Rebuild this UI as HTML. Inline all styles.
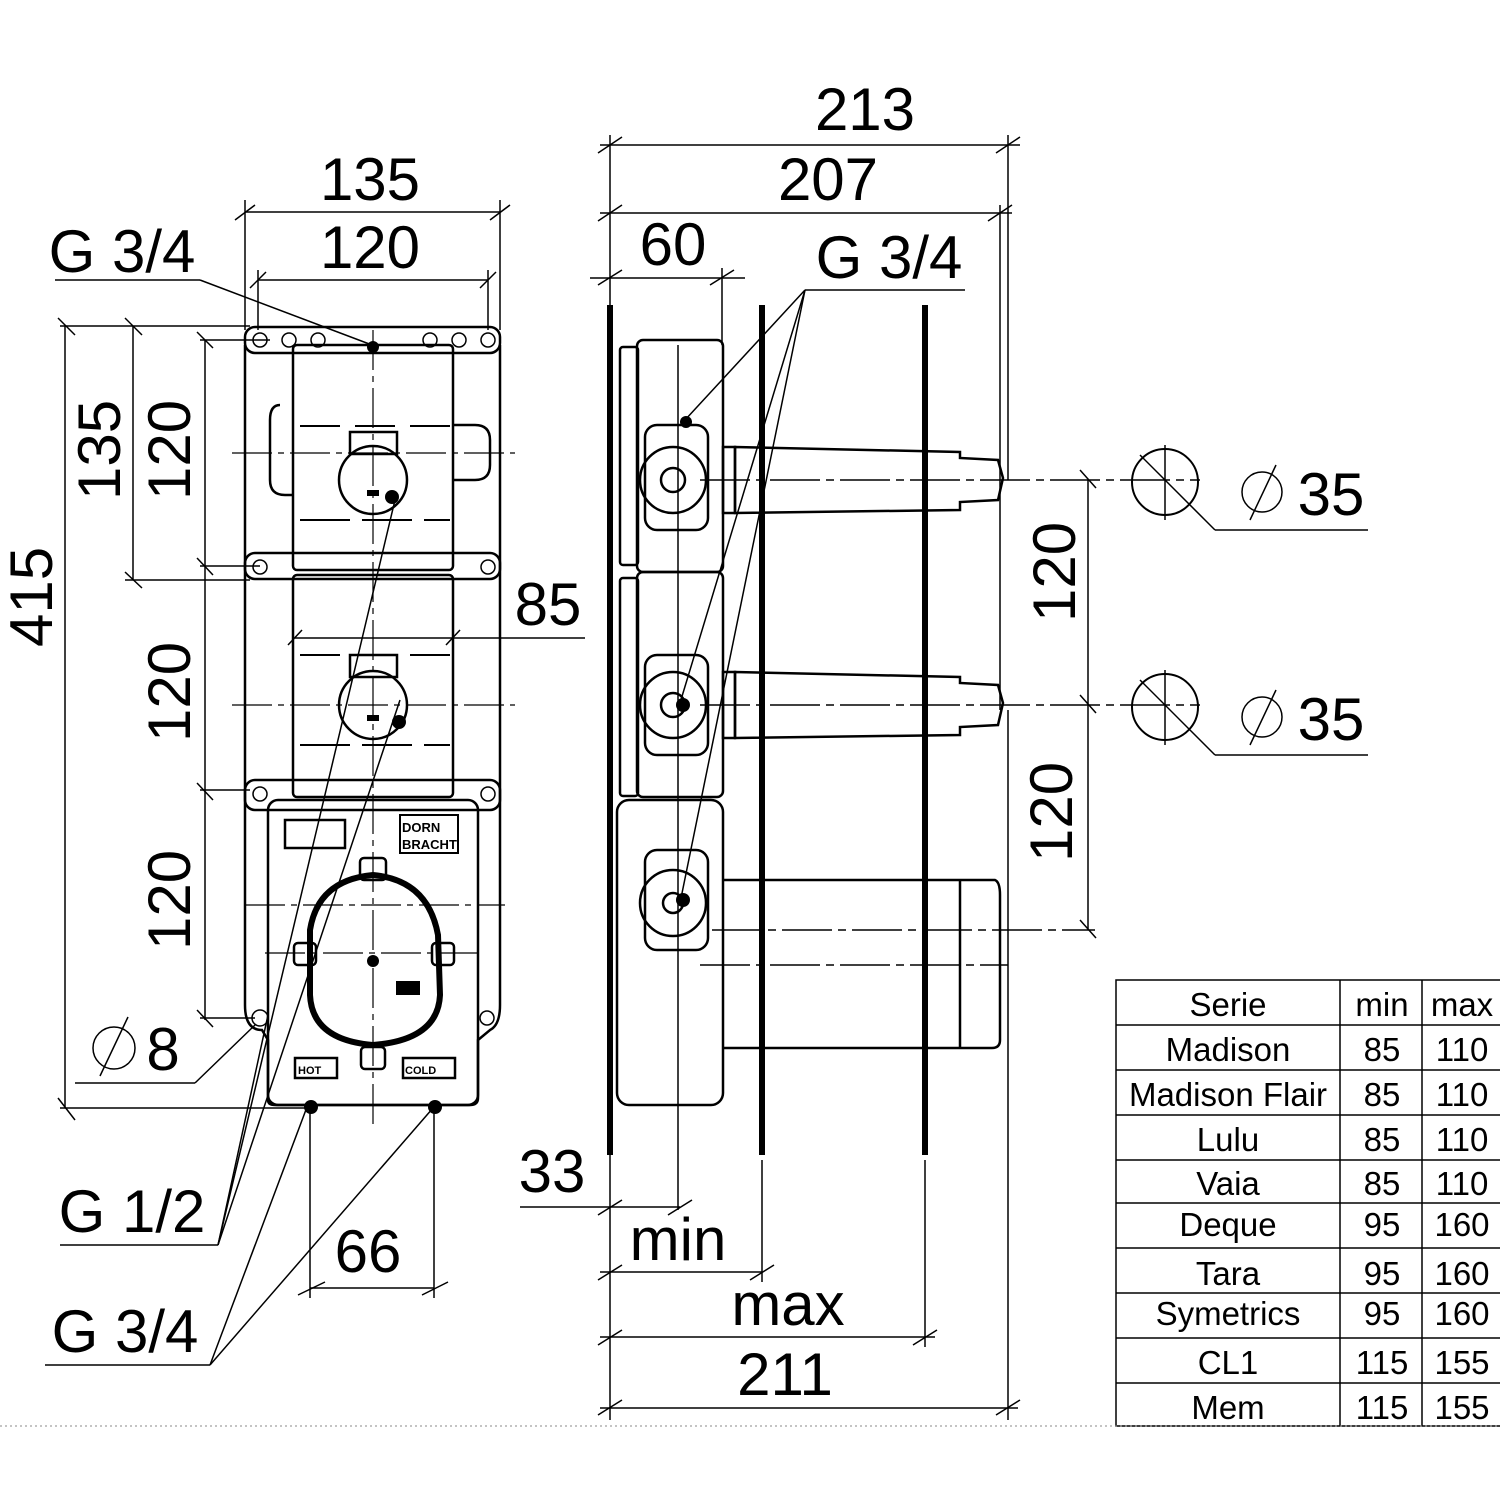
<!DOCTYPE html>
<html><head><meta charset="utf-8"><style>
html,body{margin:0;padding:0;background:#fff}
svg{display:block}
text{font-family:"Liberation Sans",sans-serif;fill:#000}
</style></head><body>
<svg width="1500" height="1500" viewBox="0 0 1500 1500" xmlns="http://www.w3.org/2000/svg">
<g fill="none" stroke="#000" stroke-width="1.5">
<line x1="245" y1="212" x2="500" y2="212"/><line x1="245" y1="200" x2="245" y2="330"/><line x1="500" y1="200" x2="500" y2="330"/>
<line x1="235" y1="220" x2="255" y2="205"/><line x1="490" y1="220" x2="510" y2="205"/>
<line x1="258" y1="280" x2="488" y2="280"/><line x1="258" y1="270" x2="258" y2="330"/><line x1="488" y1="270" x2="488" y2="330"/>
<line x1="250" y1="288" x2="266" y2="272"/><line x1="480" y1="288" x2="496" y2="272"/>
<line x1="55" y1="280" x2="200" y2="280"/><line x1="200" y1="280" x2="372" y2="345"/>
<line x1="65" y1="326" x2="65" y2="1108"/><line x1="60" y1="326" x2="250" y2="326"/><line x1="60" y1="1108" x2="310" y2="1108"/>
<line x1="58" y1="318" x2="75" y2="335"/><line x1="58" y1="1098" x2="75" y2="1120"/>
<line x1="133" y1="326" x2="133" y2="580"/><line x1="125" y1="318" x2="142" y2="335"/><line x1="125" y1="572" x2="142" y2="588"/>
<line x1="125" y1="580" x2="250" y2="580"/>
<line x1="205" y1="340" x2="205" y2="1020"/><line x1="200" y1="340" x2="270" y2="340"/>
<line x1="197" y1="332" x2="213" y2="348"/><line x1="197" y1="558" x2="213" y2="575"/><line x1="197" y1="783" x2="213" y2="800"/><line x1="197" y1="1010" x2="213" y2="1027"/>
<line x1="200" y1="566" x2="260" y2="566"/><line x1="200" y1="790" x2="250" y2="790"/><line x1="200" y1="1018" x2="255" y2="1018"/>
<line x1="295" y1="638" x2="585" y2="638"/><line x1="288" y1="645" x2="302" y2="630"/><line x1="446" y1="645" x2="460" y2="630"/>
<line x1="373" y1="330" x2="373" y2="1125" stroke-dasharray="40,6,6,6" stroke-width="1.2"/>
<line x1="232" y1="453" x2="515" y2="453" stroke-dasharray="40,6,6,6" stroke-width="1.2"/>
<line x1="232" y1="705" x2="515" y2="705" stroke-dasharray="40,6,6,6" stroke-width="1.2"/>
<line x1="245" y1="905" x2="505" y2="905" stroke-dasharray="40,6,6,6" stroke-width="1.2"/>
<line x1="265" y1="953" x2="485" y2="953" stroke-dasharray="40,6,6,6" stroke-width="1.2"/>
<line x1="300" y1="426" x2="450" y2="426" stroke-dasharray="40,15" stroke-width="2"/>
<line x1="300" y1="520" x2="450" y2="520" stroke-dasharray="50,12" stroke-width="2"/>
<line x1="300" y1="655" x2="450" y2="655" stroke-dasharray="40,15" stroke-width="2"/>
<line x1="300" y1="745" x2="450" y2="745" stroke-dasharray="50,12" stroke-width="2"/>
<line x1="60" y1="1245" x2="218" y2="1245"/><line x1="218" y1="1245" x2="400" y2="700"/><line x1="218" y1="1245" x2="395" y2="500"/>
<line x1="218" y1="1245" x2="268" y2="1015"/>
<line x1="45" y1="1365" x2="210" y2="1365"/><line x1="210" y1="1365" x2="307" y2="1107"/><line x1="210" y1="1365" x2="433" y2="1108"/>
<line x1="75" y1="1083" x2="195" y2="1083"/><line x1="195" y1="1083" x2="255" y2="1025"/>
<line x1="310" y1="1110" x2="310" y2="1298"/><line x1="434" y1="1110" x2="434" y2="1298"/><line x1="310" y1="1288" x2="434" y2="1288"/>
<line x1="298" y1="1295" x2="325" y2="1282"/><line x1="422" y1="1295" x2="448" y2="1282"/>
</g>

<g fill="none" stroke="#000" stroke-width="2.5">
<rect x="245" y="327" width="255" height="26" rx="10"/>
<rect x="245" y="553" width="255" height="26" rx="10"/>
<rect x="245" y="780" width="255" height="30" rx="10"/>
<line x1="245" y1="345" x2="245" y2="1005"/><line x1="500" y1="345" x2="500" y2="1005"/>
<path d="M245 1005 Q245 1030 262 1030 L268 1040 L268 1100 Q268 1105 275 1105 L470 1105 Q478 1105 478 1098 L478 1040 L490 1030 Q500 1025 500 1005"/>
<rect x="293" y="345" width="160" height="225" rx="4"/>
<rect x="293" y="575" width="160" height="222" rx="4"/>
<rect x="268" y="800" width="210" height="305" rx="10"/>
<path d="M280 405 Q270 405 270 420 L270 480 Q270 495 285 495 L293 495"/>
<path d="M453 425 L475 425 Q490 425 490 440 L490 465 Q490 480 475 480 L453 480"/>
<rect x="350" y="432" width="47" height="22"/><rect x="350" y="655" width="47" height="22"/>
<circle cx="373" cy="480" r="34"/><circle cx="373" cy="705" r="34"/>
<path d="M310 930 Q318 880 373 875 Q428 880 438 935 L440 995 Q438 1040 373 1045 Q312 1040 310 995 Z" stroke-width="6"/>
<rect x="285" y="820" width="60" height="28"/><rect x="400" y="815" width="58" height="38" stroke-width="2"/>
<rect x="295" y="1058" width="42" height="20"/><rect x="403" y="1058" width="52" height="20"/>
<rect x="360" y="858" width="26" height="22" rx="4"/><rect x="294" y="943" width="22" height="22" rx="4"/><rect x="432" y="943" width="22" height="22" rx="4"/><rect x="361" y="1047" width="24" height="22" rx="4"/>
</g>
<g fill="none" stroke="#000" stroke-width="1.5">
<circle cx="260" cy="340" r="7"/><circle cx="289" cy="340" r="7"/><circle cx="318" cy="340" r="7"/><circle cx="430" cy="340" r="7"/><circle cx="459" cy="340" r="7"/><circle cx="488" cy="340" r="7"/>
<circle cx="260" cy="567" r="7"/><circle cx="488" cy="567" r="7"/><circle cx="260" cy="794" r="7"/><circle cx="488" cy="794" r="7"/>
<circle cx="260" cy="1018" r="8"/><circle cx="487" cy="1018" r="7"/>
</g>
<g fill="#000">
<circle cx="373" cy="347" r="6"/><circle cx="392" cy="497" r="7"/><circle cx="399" cy="722" r="7"/><circle cx="373" cy="961" r="6"/>
<circle cx="311" cy="1107" r="7"/><circle cx="435" cy="1107" r="7"/>
<rect x="396" y="981" width="24" height="14"/><rect x="367" y="490" width="12" height="6"/><rect x="367" y="715" width="12" height="6"/>
</g>
<g font-size="11" font-weight="bold">
<text x="298" y="1074">HOT</text><text x="405" y="1074">COLD</text>
<text x="402" y="832" font-size="13">DORN</text><text x="402" y="849" font-size="13">BRACHT</text>
</g>

<g fill="none" stroke="#000" stroke-width="1.5">
<line x1="610" y1="135" x2="610" y2="1420"/><line x1="1008" y1="135" x2="1008" y2="480"/><line x1="1008" y1="710" x2="1008" y2="1420"/>
<line x1="600" y1="145" x2="1020" y2="145"/><line x1="598" y1="153" x2="622" y2="137"/><line x1="996" y1="153" x2="1020" y2="137"/>
<line x1="1000" y1="205" x2="1000" y2="710"/>
<line x1="600" y1="213" x2="1012" y2="213"/><line x1="598" y1="221" x2="622" y2="205"/><line x1="988" y1="221" x2="1012" y2="205"/>
<line x1="590" y1="278" x2="745" y2="278"/><line x1="722" y1="268" x2="722" y2="345"/><line x1="598" y1="285" x2="622" y2="270"/><line x1="710" y1="285" x2="734" y2="270"/>
<line x1="805" y1="290" x2="965" y2="290"/><line x1="805" y1="290" x2="685" y2="420"/><line x1="805" y1="290" x2="680" y2="703"/><line x1="805" y1="290" x2="680" y2="903"/>
<line x1="520" y1="1207" x2="680" y2="1207"/><line x1="598" y1="1215" x2="622" y2="1200"/><line x1="668" y1="1215" x2="692" y2="1200"/>
<line x1="678" y1="345" x2="678" y2="1210"/>
<line x1="600" y1="1272" x2="762" y2="1272"/><line x1="762" y1="1160" x2="762" y2="1282"/><line x1="598" y1="1280" x2="622" y2="1265"/><line x1="750" y1="1280" x2="774" y2="1265"/>
<line x1="600" y1="1337" x2="935" y2="1337"/><line x1="925" y1="1160" x2="925" y2="1347"/><line x1="598" y1="1345" x2="622" y2="1330"/><line x1="913" y1="1345" x2="937" y2="1330"/>
<line x1="600" y1="1408" x2="1018" y2="1408"/><line x1="598" y1="1415" x2="622" y2="1400"/><line x1="996" y1="1415" x2="1020" y2="1400"/>
<line x1="700" y1="480" x2="1200" y2="480" stroke-dasharray="50,6,8,6"/><line x1="700" y1="705" x2="1200" y2="705" stroke-dasharray="50,6,8,6"/>
<line x1="712" y1="930" x2="1095" y2="930" stroke-dasharray="50,6,8,6"/><line x1="700" y1="965" x2="1008" y2="965" stroke-dasharray="50,6,8,6"/>
<line x1="1088" y1="480" x2="1088" y2="930"/><line x1="1080" y1="470" x2="1096" y2="488"/><line x1="1080" y1="695" x2="1096" y2="713"/><line x1="1080" y1="920" x2="1096" y2="938"/>
<line x1="1165" y1="445" x2="1165" y2="520"/><line x1="1165" y1="670" x2="1165" y2="745"/>
<line x1="1140" y1="455" x2="1215" y2="530"/><line x1="1215" y1="530" x2="1368" y2="530"/>
<line x1="1140" y1="680" x2="1215" y2="755"/><line x1="1215" y1="755" x2="1368" y2="755"/>
<circle cx="1165" cy="482" r="33" stroke-width="2"/><circle cx="1165" cy="707" r="33" stroke-width="2"/>
<circle cx="1262" cy="492" r="20"/><line x1="1250" y1="520" x2="1276" y2="465"/>
<circle cx="1262" cy="717" r="20"/><line x1="1250" y1="745" x2="1276" y2="690"/>
<circle cx="114" cy="1048" r="21"/><line x1="100" y1="1076" x2="128" y2="1017"/>
</g>
<g stroke="#000" stroke-width="6"><line x1="610" y1="305" x2="610" y2="1155"/><line x1="762" y1="305" x2="762" y2="1155"/><line x1="925" y1="305" x2="925" y2="1155"/></g>
<g fill="none" stroke="#000" stroke-width="2.5">
<rect x="637" y="340" width="86" height="232" rx="6"/><rect x="637" y="572" width="86" height="225" rx="6"/><rect x="617" y="800" width="106" height="305" rx="12"/>
<rect x="620" y="347" width="18" height="218" rx="3"/><rect x="620" y="578" width="18" height="218" rx="3"/>
<rect x="645" y="425" width="63" height="105" rx="12"/><rect x="645" y="655" width="63" height="100" rx="12"/><rect x="645" y="850" width="63" height="100" rx="12"/>
<circle cx="673" cy="480" r="33"/><circle cx="673" cy="480" r="12"/><circle cx="673" cy="705" r="33"/><circle cx="673" cy="705" r="12"/><circle cx="673" cy="903" r="33"/><circle cx="673" cy="903" r="10"/>
<path d="M735 447 L960 452 L960 458 L998 460 L1003 478 L998 500 L960 502 L960 510 L735 513 Z"/>
<path d="M735 672 L960 677 L960 683 L998 685 L1003 703 L998 725 L960 727 L960 735 L735 738 Z"/>
<rect x="723" y="447" width="12" height="66"/><rect x="723" y="672" width="12" height="66"/>
<path d="M723 880 L995 880 Q1000 882 1000 895 L1000 1040 Q1000 1048 992 1048 L723 1048"/>
<line x1="960" y1="880" x2="960" y2="1048"/>
</g>
<g fill="#000"><circle cx="686" cy="422" r="6"/><circle cx="683" cy="705" r="7"/><circle cx="683" cy="900" r="7"/></g>

<g fill="none" stroke="#000" stroke-width="1.5">
<rect x="1116" y="980" width="390" height="446"/>
<line x1="1340" y1="980" x2="1340" y2="1426"/><line x1="1422" y1="980" x2="1422" y2="1426"/>
<line x1="1116" y1="1025" x2="1500" y2="1025"/><line x1="1116" y1="1070" x2="1500" y2="1070"/><line x1="1116" y1="1115" x2="1500" y2="1115"/><line x1="1116" y1="1160" x2="1500" y2="1160"/><line x1="1116" y1="1203" x2="1500" y2="1203"/><line x1="1116" y1="1248" x2="1500" y2="1248"/><line x1="1116" y1="1293" x2="1500" y2="1293"/><line x1="1116" y1="1338" x2="1500" y2="1338"/><line x1="1116" y1="1383" x2="1500" y2="1383"/>
</g>
<line x1="0" y1="1426" x2="1500" y2="1426" stroke="#888" stroke-width="1" stroke-dasharray="2,3"/>

<g font-size="60" text-anchor="middle">
<text x="865" y="130">213</text><text x="828" y="200">207</text><text x="370" y="200">135</text><text x="370" y="268">120</text>
<text x="673" y="265">60</text><text x="548" y="625">85</text><text x="368" y="1272">66</text><text x="552" y="1192">33</text>
<text x="678" y="1260">min</text><text x="788" y="1325">max</text><text x="785" y="1395">211</text>
<text x="122" y="272">G 3/4</text><text x="889" y="278">G 3/4</text><text x="132" y="1232">G 1/2</text><text x="125" y="1352">G 3/4</text>
<text x="1331" y="515">35</text><text x="1331" y="740">35</text><text x="163" y="1070">8</text>
<text transform="translate(120,450) rotate(-90)">135</text>
<text transform="translate(190,450) rotate(-90)">120</text>
<text transform="translate(52,597) rotate(-90)">415</text>
<text transform="translate(190,692) rotate(-90)">120</text>
<text transform="translate(190,900) rotate(-90)">120</text>
<text transform="translate(1075,572) rotate(-90)">120</text>
<text transform="translate(1072,812) rotate(-90)">120</text>
</g>
<g font-size="33" text-anchor="middle">
<text x="1228" y="1016">Serie</text><text x="1382" y="1016">min</text><text x="1462" y="1016">max</text>
<text x="1228" y="1061">Madison</text><text x="1382" y="1061">85</text><text x="1462" y="1061">110</text>
<text x="1228" y="1106">Madison Flair</text><text x="1382" y="1106">85</text><text x="1462" y="1106">110</text>
<text x="1228" y="1151">Lulu</text><text x="1382" y="1151">85</text><text x="1462" y="1151">110</text>
<text x="1228" y="1195">Vaia</text><text x="1382" y="1195">85</text><text x="1462" y="1195">110</text>
<text x="1228" y="1236">Deque</text><text x="1382" y="1236">95</text><text x="1462" y="1236">160</text>
<text x="1228" y="1285">Tara</text><text x="1382" y="1285">95</text><text x="1462" y="1285">160</text>
<text x="1228" y="1325">Symetrics</text><text x="1382" y="1325">95</text><text x="1462" y="1325">160</text>
<text x="1228" y="1374">CL1</text><text x="1382" y="1374">115</text><text x="1462" y="1374">155</text>
<text x="1228" y="1419">Mem</text><text x="1382" y="1419">115</text><text x="1462" y="1419">155</text>
</g>
</svg>
</body></html>
